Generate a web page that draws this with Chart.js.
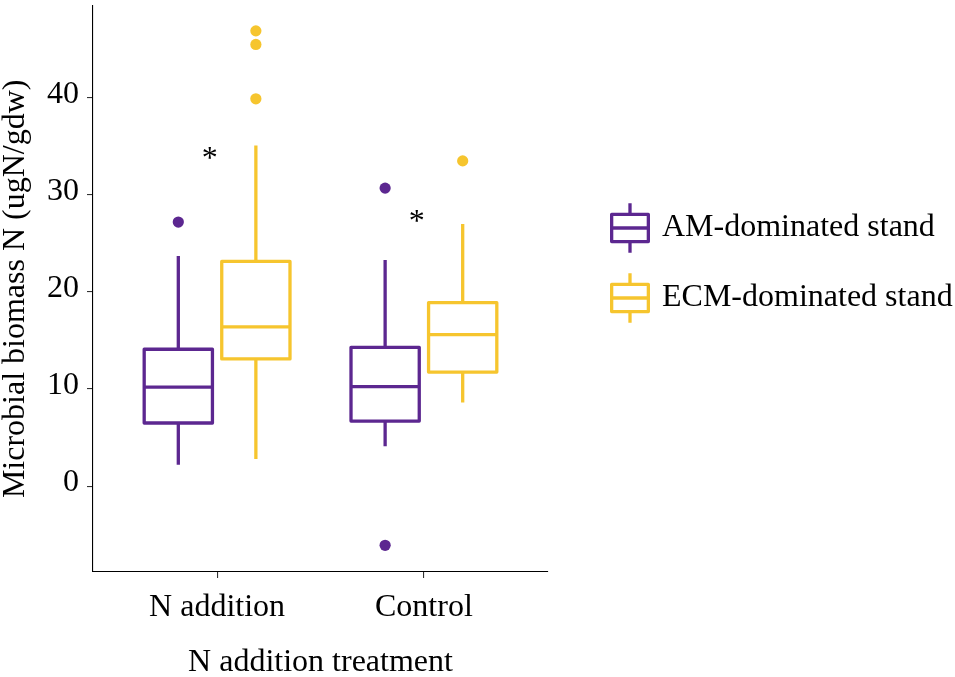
<!DOCTYPE html>
<html>
<head>
<meta charset="utf-8">
<script src="https://cdn.jsdelivr.net/npm/chart.js@4.4.1/dist/chart.umd.min.js"></script>
<style>
  html, body { margin: 0; padding: 0; background: #ffffff; }
  #wrap { width: 955px; height: 677px; position: relative; }
</style>
</head>
<body>
<div id="wrap"><canvas id="chart"></canvas></div>
<script>
// ---- data ----
const treatments = ['N addition', 'Control'];
const stands = ['AM-dominated stand', 'ECM-dominated stand'];
const standColors = ['#5C2790', '#F6C52E'];
const yTicks = [0, 10, 20, 30, 40];

// AM-dominated stand: whisker ends, quartiles, median, outliers (per treatment)
const amLow = [2.2, 4.1];
const amQ1 = [6.5, 6.7];
const amMedian = [10.2, 10.25];
const amQ3 = [14.1, 14.3];
const amHigh = [23.7, 23.3];
const amOutliers = [[27.2], [30.7, -6.1]];

// ECM-dominated stand
const ecmLow = [2.8, 8.6];
const ecmQ1 = [13.1, 11.75];
const ecmMedian = [16.4, 15.6];
const ecmQ3 = [23.15, 18.9];
const ecmHigh = [35.1, 27.0];
const ecmOutliers = [[46.9, 45.5, 39.9], [33.5]];

// significance markers
const sigLabels = ['*', '*'];
const sigX = [0.965, 1.965];
const sigY = [33.6, 27.1];

// ---- layout constants ----
const FONT = "'Liberation Serif', 'Times New Roman', serif";
const DODGE = [-0.1875, 0.1875];
const BOX_WIDTH = 0.33;
const LINE_W = 3.3;

const standStats = [
  { low: amLow, q1: amQ1, med: amMedian, q3: amQ3, high: amHigh, out: amOutliers },
  { low: ecmLow, q1: ecmQ1, med: ecmMedian, q3: ecmQ3, high: ecmHigh, out: ecmOutliers }
];

const outlierDatasets = standStats.map((st, s) => ({
  label: stands[s],
  data: st.out.flatMap((vals, g) => vals.map(v => ({ x: g + 1 + DODGE[s], y: v }))),
  backgroundColor: standColors[s],
  borderWidth: 0,
  pointRadius: 5.6,
  pointHoverRadius: 5.6
}));

// boxes, whiskers and medians drawn through the chart scales
const boxPlugin = {
  id: 'boxes',
  beforeDatasetsDraw(chart) {
    const { ctx, scales: { x, y } } = chart;
    ctx.save();
    ctx.lineWidth = LINE_W;
    ctx.lineJoin = 'round';
    ctx.lineCap = 'butt';
    standStats.forEach((st, s) => {
      ctx.strokeStyle = standColors[s];
      treatments.forEach((_, g) => {
        const c = g + 1 + DODGE[s];
        const px = x.getPixelForValue(c);
        const left = x.getPixelForValue(c - BOX_WIDTH / 2);
        const right = x.getPixelForValue(c + BOX_WIDTH / 2);
        const yLow = y.getPixelForValue(st.low[g]);
        const yQ1 = y.getPixelForValue(st.q1[g]);
        const yMed = y.getPixelForValue(st.med[g]);
        const yQ3 = y.getPixelForValue(st.q3[g]);
        const yHigh = y.getPixelForValue(st.high[g]);
        // whiskers
        ctx.beginPath();
        ctx.moveTo(px, yQ3); ctx.lineTo(px, yHigh);
        ctx.moveTo(px, yQ1); ctx.lineTo(px, yLow);
        ctx.stroke();
        // box
        ctx.fillStyle = '#ffffff';
        ctx.beginPath();
        ctx.rect(left, yQ3, right - left, yQ1 - yQ3);
        ctx.fill();
        ctx.stroke();
        // median
        ctx.beginPath();
        ctx.moveTo(left, yMed); ctx.lineTo(right, yMed);
        ctx.stroke();
      });
    });
    ctx.restore();
  },
  afterDatasetsDraw(chart) {
    const { ctx, scales: { x, y } } = chart;
    ctx.save();
    ctx.fillStyle = '#000000';
    ctx.font = '32px ' + FONT;
    ctx.textAlign = 'center';
    ctx.textBaseline = 'middle';
    sigLabels.forEach((t, i) => {
      ctx.fillText(t, x.getPixelForValue(sigX[i]), y.getPixelForValue(sigY[i]));
    });
    ctx.restore();
  }
};

// legend with boxplot keys
const legendPlugin = {
  id: 'boxLegend',
  afterDraw(chart) {
    const { ctx, chartArea: a } = chart;
    ctx.save();
    stands.forEach((name, i) => {
      const cx = a.right + 82;
      const cy = 228 + i * 70;
      const w = 36.7, h = 27.2, wh = 24.7;
      ctx.strokeStyle = standColors[i];
      ctx.lineWidth = LINE_W;
      ctx.lineJoin = 'round';
      ctx.beginPath();
      ctx.moveTo(cx, cy - wh); ctx.lineTo(cx, cy - h / 2);
      ctx.moveTo(cx, cy + h / 2); ctx.lineTo(cx, cy + wh);
      ctx.stroke();
      ctx.fillStyle = '#ffffff';
      ctx.beginPath();
      ctx.rect(cx - w / 2, cy - h / 2, w, h);
      ctx.fill();
      ctx.stroke();
      ctx.beginPath();
      ctx.moveTo(cx - w / 2, cy); ctx.lineTo(cx + w / 2, cy);
      ctx.stroke();
      ctx.fillStyle = '#000000';
      ctx.font = '32px ' + FONT;
      ctx.textAlign = 'left';
      ctx.textBaseline = 'middle';
      ctx.fillText(name, a.right + 114, cy);
    });
    ctx.restore();
  }
};

Chart.defaults.font.family = FONT;

new Chart(document.getElementById('chart'), {
  type: 'scatter',
  data: { datasets: outlierDatasets },
  plugins: [boxPlugin, legendPlugin],
  options: {
    responsive: true,
    maintainAspectRatio: false,
    animation: false,
    layout: { padding: { left: 0, right: 407, top: 1, bottom: 0 } },
    plugins: { legend: { display: false }, tooltip: { enabled: false } },
    scales: {
      x: {
        type: 'linear',
        min: 0.4,
        max: 2.6,
        afterBuildTicks: s => { s.ticks = treatments.map((_, i) => ({ value: i + 1 })); },
        afterFit: s => { s.height = 105; s.paddingLeft = 0; s.paddingRight = 0; },
        ticks: {
          callback: v => treatments[Math.round(v) - 1],
          font: { size: 32 },
          color: '#000000',
          padding: 10,
          maxRotation: 0,
          autoSkip: false
        },
        grid: { drawOnChartArea: false, drawTicks: true, tickLength: 6, color: '#333333', lineWidth: 1.1 },
        border: { display: true, color: '#000000', width: 1.1 },
        title: {
          display: true,
          text: 'N addition treatment',
          font: { size: 32, lineHeight: 0.9 },
          color: '#000000',
          padding: { top: 0, bottom: 0 }
        }
      },
      y: {
        type: 'linear',
        min: -8.85,
        max: 49.5,
        afterBuildTicks: s => { s.ticks = yTicks.map(v => ({ value: v })); },
        afterFit: s => { s.width = 93; s.paddingTop = 0; s.paddingBottom = 0; },
        ticks: {
          font: { size: 32 },
          color: '#000000',
          padding: 8,
          labelOffset: -3
        },
        grid: { drawOnChartArea: false, drawTicks: true, tickLength: 6, color: '#333333', lineWidth: 1.1 },
        border: { display: true, color: '#000000', width: 1.1 },
        title: {
          display: true,
          text: 'Microbial biomass N (ugN/gdw)',
          font: { size: 32, lineHeight: 0.9 },
          color: '#000000',
          padding: { top: 1, bottom: 0 }
        }
      }
    }
  }
});
</script>
</body>
</html>
